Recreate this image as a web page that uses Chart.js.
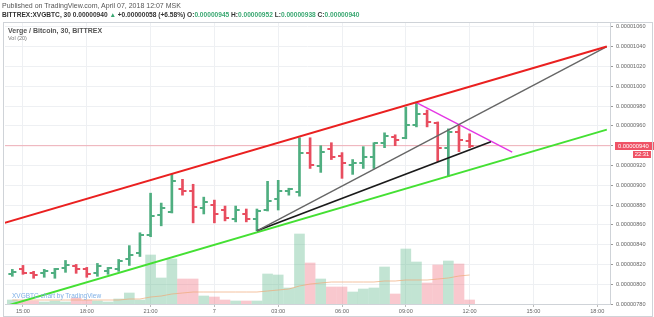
<!DOCTYPE html>
<html><head><meta charset="utf-8">
<script src="https://cdn.jsdelivr.net/npm/chart.js@4/dist/chart.umd.min.js"></script>
<style>
html,body{margin:0;padding:0;background:#fff;}
#wrap{position:relative;width:654px;height:317px;overflow:hidden;font-family:"Liberation Sans",Arial,sans-serif;}
#c{position:absolute;left:0;top:0;}
.t{position:absolute;white-space:nowrap;line-height:1;}
#frame{position:absolute;left:3px;top:22px;width:648px;height:293px;border:1px solid #cfd3d8;pointer-events:none;}
.g{color:#3aa872;}
</style></head><body>
<div id="wrap">
<canvas id="c" width="654" height="317"></canvas>
<div id="frame"></div>
<div class="t" style="left:2px;top:2px;font-size:7px;color:#555">Published on TradingView.com, April 07, 2018 12:07 MSK</div>
<div class="t" style="left:2px;top:12px;font-size:6.6px;font-weight:bold;color:#333">BITTREX:XVGBTC, 30 0.00000940 <span class="g">&#9650;</span> +0.00000058 (+6.58%) O:<span class="g">0.00000945</span> H:<span class="g">0.00000952</span> L:<span class="g">0.00000938</span> C:<span class="g">0.00000940</span></div>
<div class="t" style="left:8px;top:27px;font-size:7px;font-weight:bold;color:#555">Verge / Bitcoin, 30, BITTREX</div>
<div class="t" style="left:8px;top:36px;font-size:5.5px;color:#777">Vol (20)</div>
<div class="t" style="left:12px;top:293px;font-size:6.5px;color:#7fb0e6">XVGBTC chart by TradingView</div>
</div>
<script>
// bar times in hours from 15:00 (Apr 6)
const barHours = [-0.5,0,0.5,1,1.5,2,2.5,3,3.5,4,4.5,5,5.5,6,6.5,7,7.5,8,8.5,9,9.5,10,10.5,11,11.5,12,12.5,13,13.5,14,14.5,15,15.5,16,16.5,17,17.5,18,18.5,19,19.5,20,20.5,21];
// prices in units of 1e-8 BTC
const opens  = [810,815,811,811,811,816,818,815,811,813,815,825,832,850,870,873,896,894,877,880,875,866,871,866,875,886,894,893,933,919,937,930,920,923,929,943,949,948,961,972,963,938,954,945];
const highs  = [815,819,813,815,816,824,820,817,821,817,825,839,852,892,882,911,906,901,888,885,879,879,876,876,904,905,897,948,948,940,943,933,926,939,943,953,951,979,984,976,964,957,961,952];
const lows   = [808,810,806,807,806,812,811,807,808,810,813,819,828,848,859,872,890,862,871,862,864,863,863,854,874,875,890,889,917,913,926,907,911,917,917,938,940,947,959,959,924,909,934,938];
const closes = [812,811,809,813,815,819,815,810,818,816,823,830,850,869,877,904,894,878,883,871,867,875,866,874,884,894,896,933,920,934,929,922,923,929,943,950,946,961,972,964,938,954,946,940];
const volumes = [4,3,3,2,3,2,6,4,3,2,5,11,4,49,26,45,25,25,8,7,4,3,3,3,30,29,16,70,41,25,17,17,12,15,16,37,10,55,42,21,39,43,40,4];
const volMA   = [4,4,4,4,4,4,4,4,4,4,4,5,5,7,8,10,11,12,12,12,12,12,12,12,13,14,15,18,20,21,22,22,22,22,22,23,23,24,24,24,25,26,28,29];
// axis ticks
const timeTickHours = [0,3,6,9,12,15,18,21,24,27];
const timeTickLabels = ['15:00','18:00','21:00','7','03:00','06:00','09:00','12:00','15:00','18:00'];
const priceTicks = [780,800,820,840,860,880,900,920,940,960,980,1000,1020,1040,1060];
// drawn trend lines [hour, price]
const redLine     = [[-1,861.1],[27.45,1040.2]];
const grayLine    = [[11,854],[27.45,1040.2]];
const blackLine   = [[11,854],[22,944]];
const greenLine   = [[-1,776.7],[27.45,956.2]];
const magentaLine = [[18.5,983.5],[23,933.4]];
const lastPrice = 940;
const countdown = '22:31';

const UP='#4fae80', DN='#e84d5f';
const VUP='rgba(95,185,140,0.38)', VDN='rgba(240,110,125,0.38)';
const isUp = i => closes[i] >= opens[i];
const fmt = v => (v/1e8).toFixed(8);

function tickImg(color, side){
  const c=document.createElement('canvas'); c.width=10; c.height=2;
  const x=c.getContext('2d'); x.fillStyle=color;
  if(side==='L') x.fillRect(1,0,4,2); else x.fillRect(5,0,4,2);
  return c;
}
const imgs={UL:tickImg(UP,'L'),UR:tickImg(UP,'R'),DL:tickImg(DN,'L'),DR:tickImg(DN,'R')};

const seg = (arr,color,w)=>({type:'line',data:arr.map(p=>({x:p[0],y:p[1]})),borderColor:color,borderWidth:w,pointRadius:0,order:0,yAxisID:'y',fill:false,tension:0});

const priceLabel={id:'priceLabel',afterDraw(chart){
  const ctx=chart.ctx, ys=chart.scales.y, y=Math.round(ys.getPixelForValue(lastPrice));
  ctx.save();
  ctx.fillStyle='#ef5366';
  ctx.fillRect(ys.left+5,y-4,39,8);
  ctx.fillRect(ys.left+23,y+5,18,7);
  ctx.fillStyle='#fff'; ctx.font='5.8px "Liberation Sans", Arial'; ctx.textBaseline='middle';
  ctx.textAlign='left'; ctx.fillText(fmt(lastPrice),ys.left+8,y+0.5);
  ctx.textAlign='center'; ctx.fillText(countdown,ys.left+32,y+8.8);
  ctx.restore();
}};

new Chart(document.getElementById('c'),{
  type:'bar',
  data:{datasets:[
    seg(redLine,'#ea2020',2),
    seg(grayLine,'#666',1.4),
    seg(blackLine,'#1a1a1a',1.8),
    seg(greenLine,'#44e033',2),
    seg(magentaLine,'#e436e4',1.4),
    {type:'line',order:1,yAxisID:'y',showLine:false,data:barHours.map((h,i)=>({x:h,y:opens[i]})),
     pointStyle:ctx=>isUp(ctx.dataIndex)?imgs.UL:imgs.DL,pointRadius:3},
    {type:'line',order:1,yAxisID:'y',showLine:false,data:barHours.map((h,i)=>({x:h,y:closes[i]})),
     pointStyle:ctx=>isUp(ctx.dataIndex)?imgs.UR:imgs.DR,pointRadius:3},
    {type:'bar',order:2,yAxisID:'y',grouped:false,barThickness:2,data:barHours.map((h,i)=>({x:h,y:[lows[i],highs[i]]})),
     backgroundColor:ctx=>isUp(ctx.dataIndex)?UP:DN,borderWidth:0},
    {type:'line',order:3,yAxisID:'y',data:[{x:-1,y:lastPrice},{x:28,y:lastPrice}],borderColor:'rgba(240,120,135,0.55)',borderWidth:1,pointRadius:0},
    {type:'line',order:4,yAxisID:'v',data:barHours.map((h,i)=>({x:h,y:volMA[i]})),borderColor:'rgba(240,170,120,0.7)',borderWidth:1,pointRadius:0,tension:0},
    {type:'bar',order:5,yAxisID:'v',grouped:false,barThickness:10,data:barHours.map((h,i)=>({x:h,y:volumes[i]})),
     backgroundColor:ctx=>isUp(ctx.dataIndex)?VUP:VDN,borderWidth:0}
  ]},
  options:{
    responsive:false,animation:false,
    layout:{padding:{top:22,left:4,right:0,bottom:0}},
    plugins:{legend:{display:false},tooltip:{enabled:false}},
    scales:{
      x:{type:'linear',min:-0.845,max:27.6,offset:false,
        afterBuildTicks:s=>{s.ticks=timeTickHours.map(v=>({value:v}));},
        afterFit:s=>{s.height=13;},
        grid:{color:'#eef0f3',offset:false,tickLength:3,tickColor:'#bbb'},
        border:{display:true,color:'#cfd3d8'},
        ticks:{autoSkip:false,maxRotation:0,padding:1,color:'#666',font:{size:5.6,family:'"Liberation Sans", Arial'},
          callback:v=>timeTickLabels[timeTickHours.indexOf(v)]}},
      y:{position:'right',min:780,max:1065,
        afterBuildTicks:s=>{s.ticks=priceTicks.map(v=>({value:v}));},
        afterFit:s=>{s.width=44;},
        grid:{color:'#eef0f3',tickLength:3,tickColor:'#999'},
        border:{display:true,color:'#cfd3d8'},
        ticks:{padding:3,color:'#666',font:{size:5.6,family:'"Liberation Sans", Arial'},callback:v=>fmt(v)}},
      v:{display:false,min:0,max:282}
    }
  },
  plugins:[priceLabel]
});
</script>
</body></html>
